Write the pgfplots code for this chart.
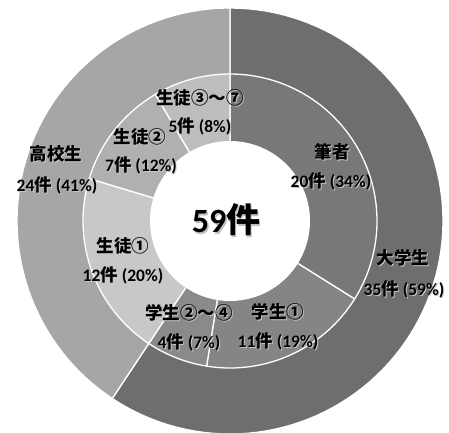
\documentclass[border=0pt]{standalone}
\usepackage{pgfplots}
\pgfplotsset{compat=1.18}
\usepackage{fontspec}
\setmainfont{Carlito}
\newfontfamily\cjkb{Noto Sans CJK JP Bold}
\newcommand\K[1]{{\cjkb #1}}
\definecolor{cDai}{HTML}{6E6E6E}
\definecolor{cKou}{HTML}{A6A6A6}
\definecolor{cHit}{HTML}{787878}
\definecolor{cGa1}{HTML}{858585}
\definecolor{cGa2}{HTML}{8A8A8A}
\definecolor{cSe1}{HTML}{C8C8C8}
\definecolor{cSe2}{HTML}{B0B0B0}
\definecolor{cSe3}{HTML}{BDBDBD}
% sector: start angle, end angle (start<end), radius, colour
\newcommand\pieSector[4]{%
  \addplot[fill=#4, draw=white, line width=1.3pt, line join=round, domain=#1:#2, samples=90]
    ({230+#3*cos(x)},{-221+#3*sin(x)}) -- (axis cs:230,-221) -- cycle;}
\newcommand\lab[3]{%
  \node[text=black!22, font=\bfseries\fontsize{17.5}{20}\selectfont] at (axis cs:#1+1,-#2-1) {#3};
  \node[text=black, font=\bfseries\fontsize{17.5}{20}\selectfont] at (axis cs:#1,-#2) {#3};}
\begin{document}
\begin{tikzpicture}
% counts: outer 35, 24 (total 59); inner 20, 11, 4, 12, 7, 5
\pgfmathsetmacro{\u}{360/59}
\pgfmathsetmacro{\oA}{90-\u*35}
\pgfmathsetmacro{\iA}{90-\u*20}
\pgfmathsetmacro{\iB}{90-\u*(20+11)}
\pgfmathsetmacro{\iC}{90-\u*(20+11+4)}
\pgfmathsetmacro{\iD}{90-\u*(20+11+4+12)}
\pgfmathsetmacro{\iE}{90-\u*(20+11+4+12+7)}
\pgfmathsetmacro{\iF}{90-\u*(20+11+4+12+7+5)}
\begin{axis}[scale only axis, width=449pt, height=432pt,
  xmin=0, xmax=449, ymin=-432, ymax=0, hide axis]
% outer ring
\pieSector{\oA}{90}{213}{cDai}
\pieSector{\iF}{\oA}{213}{cKou}
% inner ring
\pieSector{\iA}{90}{147}{cHit}
\pieSector{\iB}{\iA}{147}{cGa1}
\pieSector{\iC}{\iB}{147}{cGa2}
\pieSector{\iD}{\iC}{147}{cSe1}
\pieSector{\iE}{\iD}{147}{cSe2}
\pieSector{\iF}{\iE}{147}{cSe3}
% hole
\addplot[fill=white, draw=none, domain=0:360, samples=120]
  ({230+80*cos(x)},{-221+80*sin(x)}) -- cycle;
% labels
\lab{403}{258}{\K{大学生}}
\lab{404}{289}{35\K{件} (59\%)}
\lab{56}{154}{\K{高校生}}
\lab{57}{185}{24\K{件} (41\%)}
\lab{332}{152}{\K{筆者}}
\lab{331}{181}{20\K{件} (34\%)}
\lab{278}{312}{\K{学生①}}
\lab{278}{341}{11\K{件} (19\%)}
\lab{189}{313}{\K{学生②〜④}}
\lab{189}{342}{4\K{件} (7\%)}
\lab{123}{246}{\K{生徒①}}
\lab{123}{275}{12\K{件} (20\%)}
\lab{140}{137}{\K{生徒②}}
\lab{141}{165}{7\K{件} (12\%)}
\lab{200}{98}{\K{生徒③〜⑦}}
\lab{200}{126}{5\K{件} (8\%)}
\node[text=black!25, font=\bfseries\fontsize{34}{38}\selectfont] at (axis cs:227.5,-221.5) {59\K{件}};
\node[text=black, font=\bfseries\fontsize{34}{38}\selectfont] at (axis cs:226,-220) {59\K{件}};
\end{axis}
\useasboundingbox (current axis.south west) rectangle (current axis.north east);
\end{tikzpicture}
\end{document}
